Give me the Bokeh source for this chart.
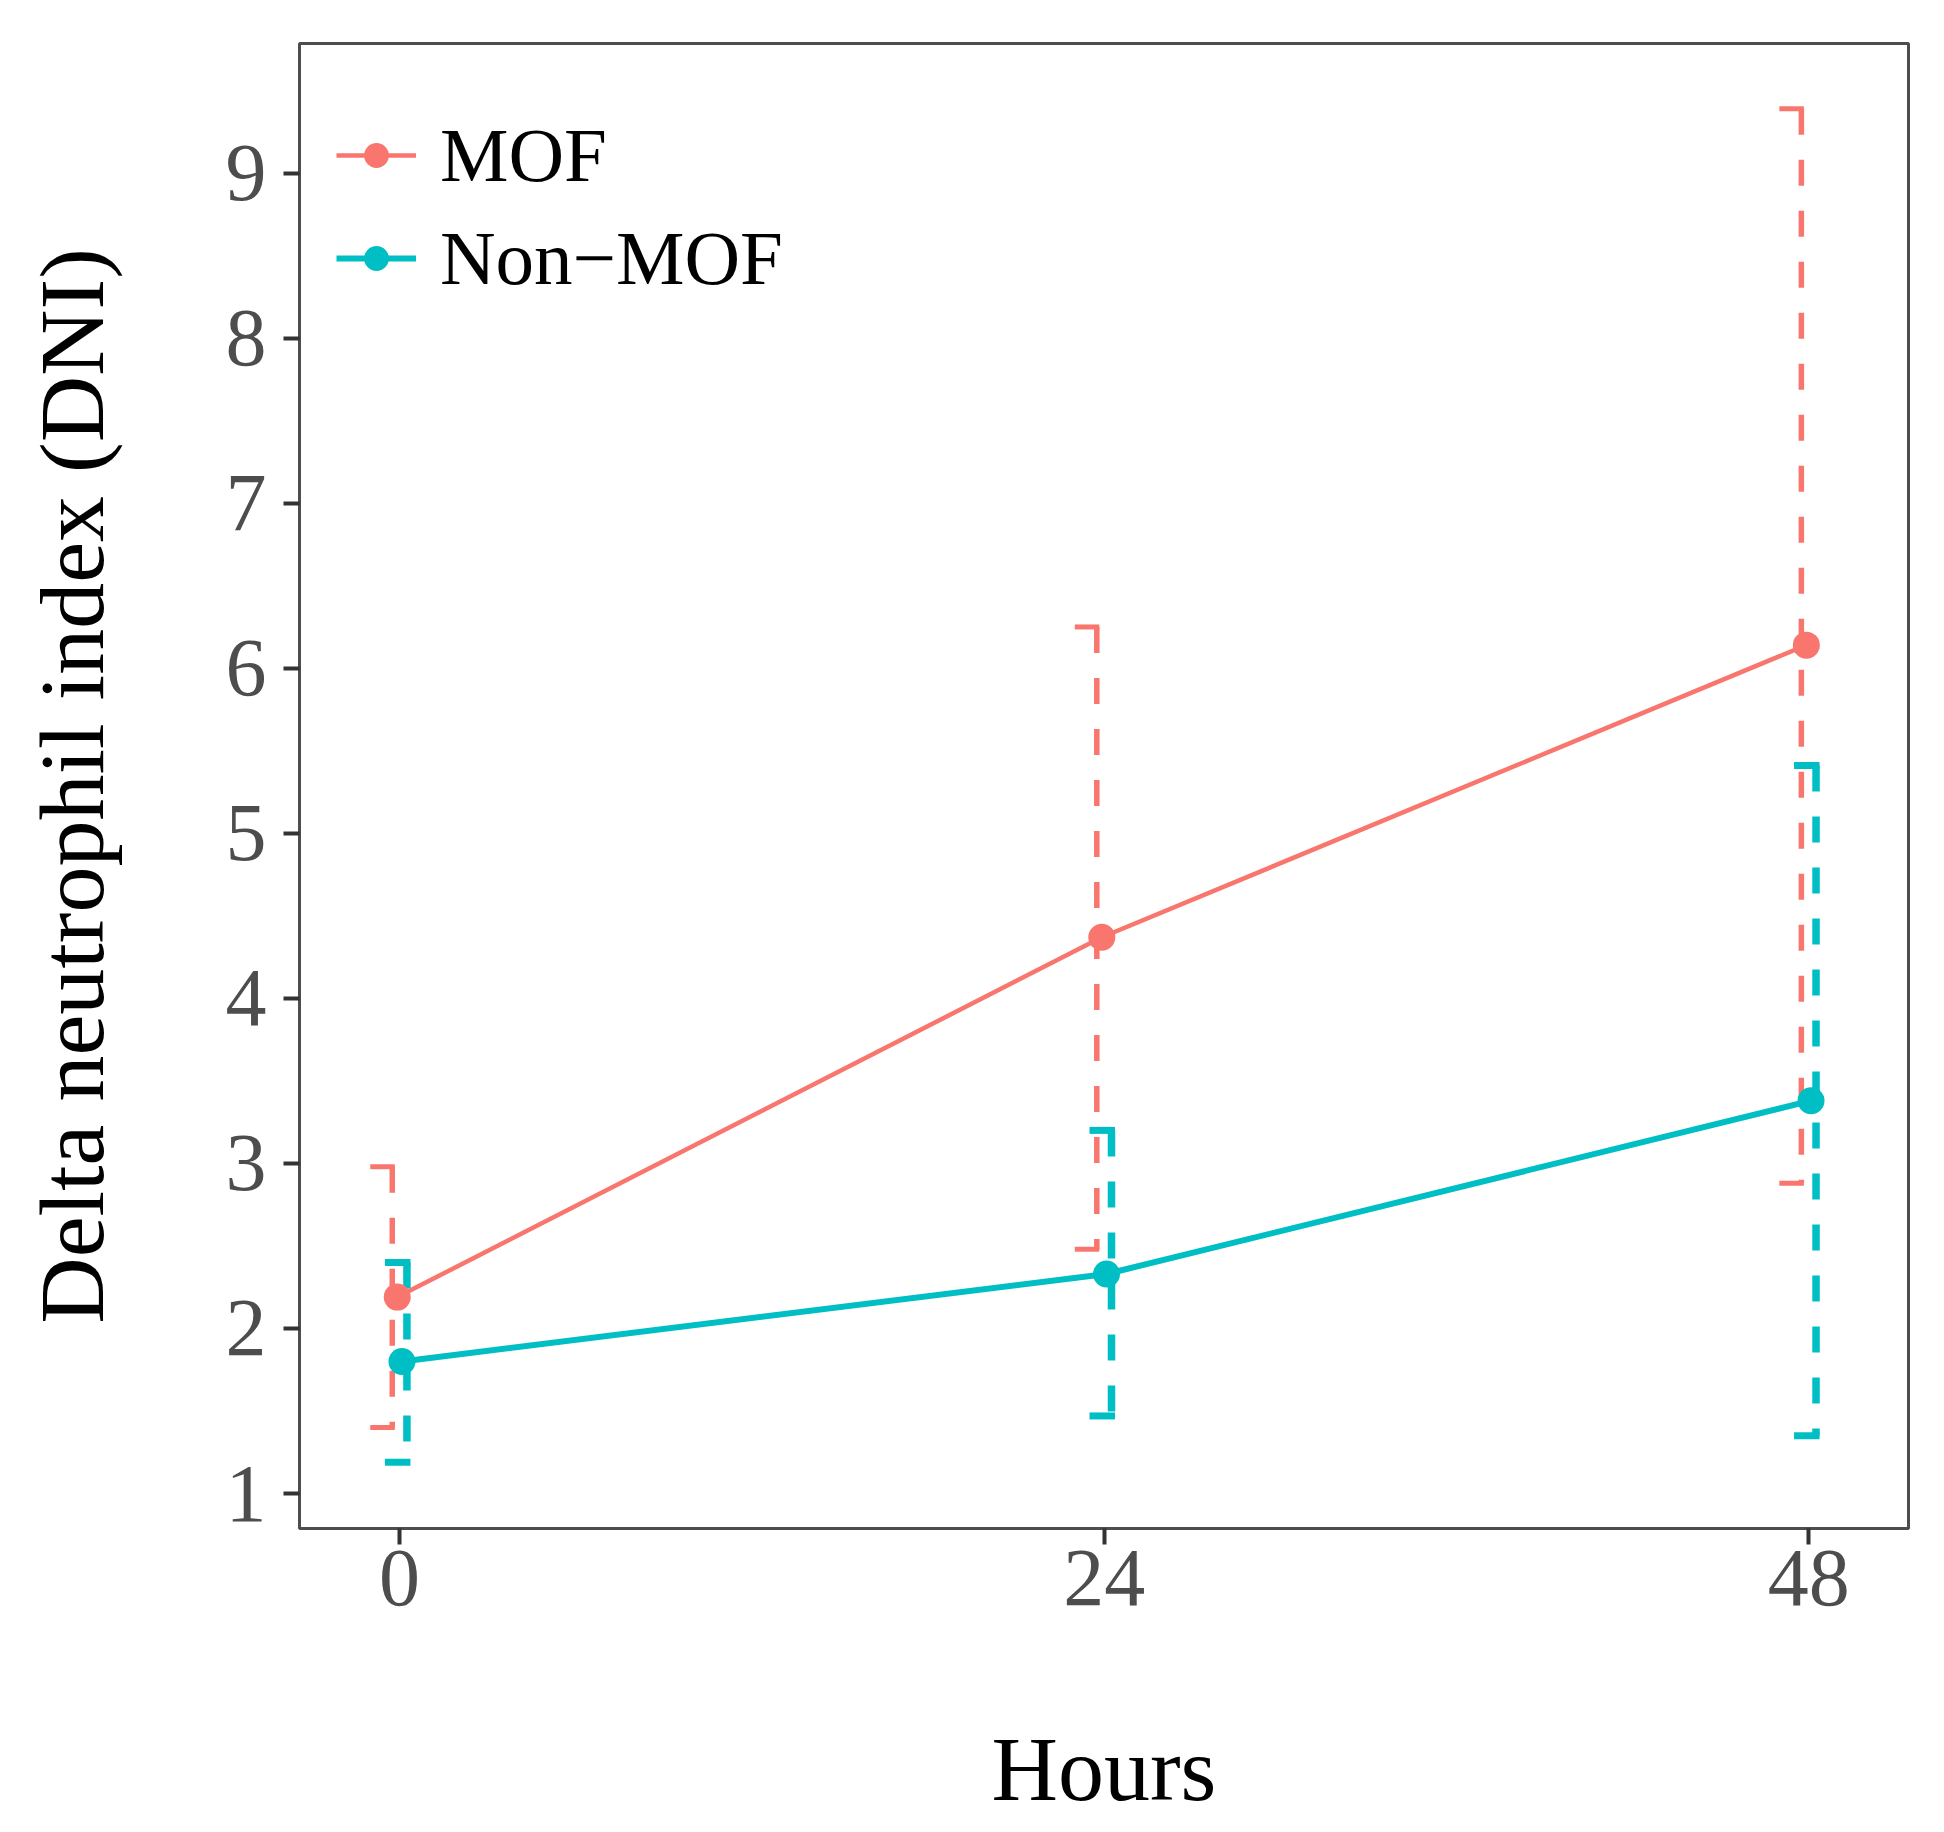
from bokeh.plotting import figure
from bokeh.models import Range1d, FixedTicker, Legend, LegendItem
from bokeh.embed import file_html
from bokeh.resources import INLINE

# ---- data ----
hours = [0, 24, 48]
mof_mean = [2.19, 4.37, 6.14]
mof_lower = [1.40, 2.48, 2.88]
mof_upper = [2.98, 6.25, 9.39]
non_mean = [1.80, 2.33, 3.38]
non_lower = [1.19, 1.47, 1.35]
non_upper = [2.40, 3.20, 5.41]
x_ticks = [0, 24, 48]
y_ticks = [1, 2, 3, 4, 5, 6, 7, 8, 9]

MOF_COL = "#F8766D"
NON_COL = "#00BFC4"
FONT = "Liberation Serif"

# dodge offsets (hours)
pt_dodge = 0.08
eb_dodge = 0.25

p = figure(width=1928, height=1822, output_backend="svg", toolbar_location=None,
           x_range=Range1d(-3.41, 51.40), y_range=Range1d(0.788, 9.785),
           min_border_left=299, min_border_right=20, min_border_top=43,
           min_border_bottom=280)
p.title.visible = False
p.background_fill_color = "white"
p.border_fill_color = "white"
p.outline_line_color = "#4d4d4d"
p.outline_line_width = 3
p.xgrid.visible = False
p.ygrid.visible = False

# ---- error bars ----
def errorbar(xpos, lower, upper, color, lw, capw):
    v = [h + xpos for h in hours]
    p.segment(x0=v, y0=upper, x1=v, y1=lower, line_color=color,
              line_width=lw, line_dash="26 25")
    left = [x - capw for x in v]
    p.segment(x0=left, y0=upper, x1=v, y1=upper, line_color=color,
              line_width=lw - 0.5, line_cap="square")
    p.segment(x0=left, y0=lower, x1=v, y1=lower, line_color=color,
              line_width=lw - 0.5, line_cap="square")

errorbar(-eb_dodge, mof_lower, mof_upper, MOF_COL, 5.5, 0.665)
errorbar(eb_dodge, non_lower, non_upper, NON_COL, 7.5, 0.63)

mof_x = [h - pt_dodge for h in hours]
non_x = [h + pt_dodge for h in hours]
mof_line = p.line(mof_x, mof_mean, line_color=MOF_COL, line_width=4.5)
non_line = p.line(non_x, non_mean, line_color=NON_COL, line_width=6)
mof_pts = p.scatter(mof_x, mof_mean, size=27, fill_color=MOF_COL, line_color=None)
non_pts = p.scatter(non_x, non_mean, size=27, fill_color=NON_COL, line_color=None)

# ---- axes ----
for ax in (p.xaxis[0], p.yaxis[0]):
    ax.axis_line_color = None
    ax.major_tick_in = 0
    ax.major_tick_out = 16
    ax.major_tick_line_width = 4
    ax.major_tick_line_color = "#333333"
    ax.minor_tick_line_color = None
    ax.major_label_text_font = FONT
    ax.major_label_text_font_size = "82px"
    ax.major_label_text_color = "#4D4D4D"
    ax.axis_label_text_font = FONT
    ax.axis_label_text_font_size = "92px"
    ax.axis_label_text_font_style = "normal"
    ax.axis_label_text_color = "black"

p.xaxis.ticker = FixedTicker(ticks=x_ticks)
p.yaxis.ticker = FixedTicker(ticks=y_ticks)
p.xaxis.axis_label = "Hours"
p.yaxis.axis_label = "Delta neutrophil index (DNI)"
p.xaxis.major_label_standoff = 6
p.yaxis.major_label_standoff = 17
p.xaxis.axis_label_standoff = 110
p.yaxis.axis_label_standoff = 100

# ---- legend ----
legend = Legend(items=[LegendItem(label="MOF", renderers=[mof_line, mof_pts]),
                       LegendItem(label="Non\u2212MOF", renderers=[non_line, non_pts])],
                location=(37, 1225))
legend.border_line_color = None
legend.background_fill_alpha = 0
legend.padding = 37
legend.margin = 0
legend.spacing = 13
legend.glyph_width = 80
legend.glyph_height = 62
legend.label_height = 90
legend.label_standoff = 24
legend.label_text_font = FONT
legend.label_text_font_size = "77px"
legend.label_text_color = "black"
p.add_layout(legend)

open("out.html", "w").write(file_html(p, INLINE))
